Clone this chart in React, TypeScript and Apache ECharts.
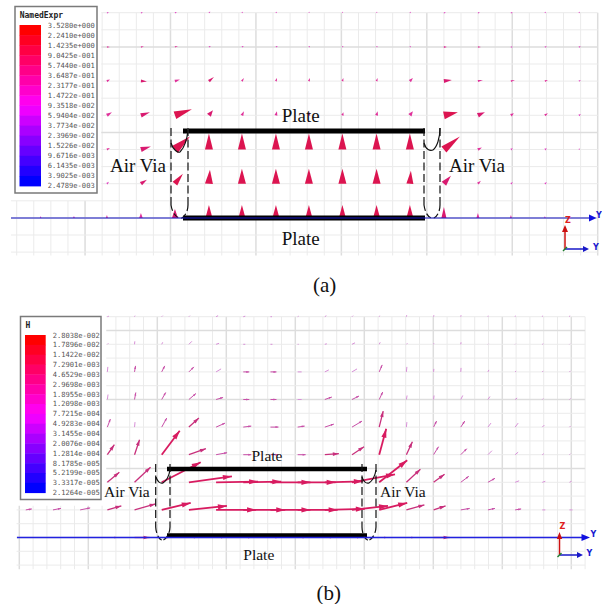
import React, { useEffect, useRef } from "react";
import * as echarts from "echarts";

// ---------- legends ----------
const legendLabelsA = ["3.5280e+000","2.2410e+000","1.4235e+000","9.0425e-001","5.7440e-001","3.6487e-001","2.3177e-001","1.4722e-001","9.3518e-002","5.9404e-002","3.7734e-002","2.3969e-002","1.5226e-002","9.6716e-003","6.1435e-003","3.9025e-003","2.4789e-003"];
const legendLabelsB = ["2.8038e-002","1.7896e-002","1.1422e-002","7.2901e-003","4.6529e-003","2.9698e-003","1.8955e-003","1.2098e-003","7.7215e-004","4.9283e-004","3.1455e-004","2.0076e-004","1.2814e-004","8.1785e-005","5.2199e-005","3.3317e-005","2.1264e-005"];
const legendRamp = ["#ff0000","#ff0022","#ff0044","#ff0066","#ff0088","#ff00aa","#ff00cc","#ff00ee","#ee00ff","#cc00ff","#aa00ff","#8800ff","#6600ff","#4400ff","#2200ff","#0000ff"];

// ---------- sample points of the two vector fields (mesh cell units) ----------
const colsA = [1.4,3.35,5.28,7.27,9.26,11.25,13.18,15.17,17.1,19.06,21.06,23.01,25,26.99,28.92,30.91,32.9];
const rowsA = [0,2,4,6,8,10,12];
const colsB = [0.47,2.44,4.41,6.38,8.35,10.32,12.29,14.26,16.23,18.2,20.17,22.14,24.11,26.08,28.05,30.02,31.99,33.96,35.93,37.9,39.87];
const rowsB = [0,2,4,6,8,10,12,14,16];

// ---------- panel (a): [column, vx, vy, width] per row ----------
const fieldA0 = [[2,2,0,1.5],[3,2,0,1.5],[4,2,0.5,1.5],[5,1.5,1,1.5],[6,1,1,1.5],[7,1,1,1.5],[8,0.5,1,1.5],[9,0.5,1,1.5],[10,0.5,1,1.5],[11,1,1,1.5],[12,2,0,1.5],[13,2,0,1.5],[14,2,0,1.5],[15,1,1,1.5],[16,1,1,1.5]];
const fieldA1 = [[2,3,0,1.5],[3,3,0.5,1.5],[4,3,1,1.5],[5,2,1,1.5],[6,2,1,1.5],[7,2,1,1.5],[8,1,1,1.5],[9,1,1,1.5],[10,1,1,1.5],[11,1,1,1.5],[12,3,0,2],[13,3,0,1.5],[14,2,0,1.5],[15,2,0.5,1.5],[16,2,0.5,1.5]];
const fieldA2 = [[2,3,1.5,2.5],[3,6,-0.5,3],[4,5,1.5,3],[5,5,4,3],[6,2,3,2],[7,1,3,2],[8,1,3,2],[9,1,3,2],[10,1,3,2],[11,3,3,3],[12,8,1,4],[13,5,1,2],[14,4,1,2],[15,3,1,2],[16,2,1,1.5]];
const fieldA3 = [[2,5,3,3.5],[3,9,3,4.5],[4,17,6,8],[5,4,5,5],[6,2,4,3],[7,1,4,3],[8,1,3,2.5],[9,1,3,2.5],[10,1,4,3],[11,3,4,4],[12,14,3,8],[13,7,3,5],[14,3,2,3],[15,3,2,2.5],[16,2,1,2]];
const fieldA4 = [[2,3,1.5,2],[3,10,3,5],[4,15,13,9],[5,0,16,8],[6,0,16,8],[7,0,16,8],[8,0,16,8],[9,0,16,8],[10,0,16,8],[11,0,16,8],[12,16,13,8],[13,4,2,3],[14,2,1,2],[15,2,1,2],[16,1,1,1.5]];
const fieldA5 = [[2,2,2,2],[3,6,4,4],[4,8,10,6],[5,1,14,8],[6,0,15,8],[7,0,15,8],[8,0,15,8],[9,0,15,8],[10,0,15,8],[11,1,13,7],[12,7,8,6],[13,3,3,2.5],[14,2,1.5,2],[15,2,1.5,2]];
const fieldA6 = [[0,0,2,1.5],[1,0,2,2],[2,0,3,2],[3,0,5,3.5],[4,0,9,6],[5,0,13,7],[6,0,13,7],[7,0,13,7],[8,0,13,7],[9,0,13,7],[10,0,13,7],[11,0,13,7],[12,0,11,5],[13,0,5,3],[14,0,3,2],[15,0,2,1.5]];
const fieldRowsA = [fieldA0,fieldA1,fieldA2,fieldA3,fieldA4,fieldA5,fieldA6];

// ---------- panel (b): [column, vx, vy] per row ----------
const fieldB0 = [[3,1.5,0.5],[4,0.5,1],[5,1,1],[6,1,1],[7,2,1],[8,2,0.5],[9,1.5,0],[10,1,0.5],[11,1.5,1],[12,1,1],[13,0.5,1],[14,0.3,1.5],[15,0.3,1.5],[16,0.3,1.5],[17,0.3,1],[18,0.3,1],[19,0.3,1],[20,0.3,1]];
const fieldB1 = [[3,1,1],[4,0.3,3],[5,1,2],[6,3,3],[7,3,1],[8,2,0],[9,2,0],[10,1,0],[11,2,0.5],[12,3,1.5],[13,1,2],[14,1,1],[15,0.3,1],[16,0.3,2],[17,0.5,0.5],[18,0.5,0.5],[19,1,0.5],[20,0.5,0.5]];
const fieldB2 = [[3,0.5,5],[4,1,6],[5,3,6],[6,5,5],[7,5,3],[8,6,0],[9,6,0],[10,4,0],[11,4,2],[12,5,3],[13,3,7],[14,0.5,5],[15,0.3,3],[16,0.3,4],[17,1,2],[18,1,1],[19,1,1],[20,1,1]];
const fieldB3 = [[3,0.7,5],[4,1.3,7],[5,4,7],[6,7,6],[7,7,2],[8,6,0],[9,6,0],[10,4,0],[11,7,2.5],[12,7,3.5],[13,3.5,7.5],[14,0.7,4],[15,0.5,4],[16,2,4],[17,2,3],[18,2,1.5],[19,1,1],[20,1,1]];
const fieldB4 = [[3,3,8],[4,0.5,5],[5,5,9],[6,10,9],[7,9,4],[8,8,1],[9,8,0],[10,7,1],[11,9,3],[12,10,6],[13,4,16],[14,0.5,5],[15,3,6],[16,4,6],[17,3,4],[18,3,4],[19,2,2],[20,1,1]];
const fieldB5 = [[3,7,10],[4,5,15],[5,18,24],[6,17,6],[7,11,2],[8,8,0],[9,8,0],[10,8,0],[11,14,1],[12,12,8],[13,7,26],[14,6,13],[15,5,8],[16,6,6],[17,4,4],[18,3,2.5],[19,1.5,1],[20,1,1]];
const fieldB6 = [[3,12,10],[4,16,15],[5,39,20],[6,43,6],[7,42,0.7],[8,38,0.7],[9,40,0],[10,38,0],[11,38,1],[12,43,8],[13,28,22],[14,14,13],[15,11,8],[16,8,6],[17,7,4],[18,4,1.5],[19,3,1],[20,2,1]];
const fieldB7 = [[0,6,1],[1,8,1.5],[2,10,2],[3,14,4],[4,21,6],[5,29,7],[6,38,4],[7,40,0],[8,42,0],[9,40,0],[10,40,0],[11,40,1],[12,36,4],[13,28,7],[14,18,5],[15,12,4],[16,9,1.5],[17,7,1.5],[18,6,1],[19,3,0],[20,3,0]];
const fieldB8 = [[1,2,0],[2,2,0],[3,10,0],[4,15,0],[5,8,0],[6,8,0],[7,8,0],[8,8,0],[9,8,0],[10,8,0],[11,8,0],[12,8,0],[13,8,0],[14,8,0],[15,16,0],[16,4,0],[17,4,0],[18,3,0],[19,2,0]];
const fieldRowsB = [fieldB0,fieldB1,fieldB2,fieldB3,fieldB4,fieldB5,fieldB6,fieldB7,fieldB8];

const dataA = fieldRowsA.flatMap((row, r) => row.map(([c, vx, vy, w]) => [colsA[c], rowsA[r], vx, vy, w]));
const dataB = fieldRowsB.flatMap((row, r) => row.map(([c, vx, vy]) => [colsB[c], rowsB[r], vx, vy]));

// ---------- mesh ----------
// [x1, y1, x2, y2, major]
const meshA: number[][] = [];
for (let k = 0; k <= 34; k++) meshA.push([k, k < 5 ? 11 : 0, k, 14.2, k % 5 === 4 ? 1 : 0]);
for (let k = 0; k <= 14; k++) meshA.push([k < 11 ? 4.95 : -0.33, k, 34, k, k % 5 === 2 ? 1 : 0]);
const meshB: number[][] = [];
for (let k = 0; k <= 41; k++) meshB.push([k, k < 7 ? 13.7 : 0, k, 18.3, k % 5 === 0 ? 1 : 0]);
for (let k = 0; k <= 18; k++) meshB.push([k < 14 ? 6.3 : -0.2, k, 41, k, k % 5 === 1 ? 1 : 0]);

const colorA = (len: number) => (len >= 12 ? "#dc1450" : len >= 6 ? "#d91a70" : len >= 3 ? "#e0309a" : "#e040c0");
const colorB = (len: number) => (len >= 25 ? "#d81b60" : len >= 12 ? "#c8307c" : len >= 6 ? "#c850a8" : "#d890d8");

const meshSeries = (data: number[][], idx: number) => ({
  type: "custom", xAxisIndex: idx, yAxisIndex: idx, clip: false, silent: true, z: 1, data,
  renderItem: (_: any, api: any) => {
    const a = api.coord([api.value(0), api.value(1)]);
    const b = api.coord([api.value(2), api.value(3)]);
    return { type: "line", shape: { x1: a[0], y1: a[1], x2: b[0], y2: b[1] },
      style: { stroke: api.value(4) ? "#dddddd" : "#ebebeb", lineWidth: api.value(4) ? 1.5 : 1 } };
  },
});

const conesA = {
  type: "custom", xAxisIndex: 0, yAxisIndex: 0, clip: false, silent: true, z: 3, data: dataA,
  renderItem: (_: any, api: any) => {
    const p = api.coord([api.value(0), api.value(1)]);
    const vx = api.value(2), vy = api.value(3), w = api.value(4);
    const len = Math.hypot(vx, vy) || 1;
    const nx = (-vy / len) * (w / 2), ny = (-vx / len) * (w / 2);
    return { type: "polygon", shape: { points: [[p[0] + vx, p[1] - vy], [p[0] + nx, p[1] + ny], [p[0] - nx, p[1] - ny]] },
      style: { fill: colorA(len) } };
  },
};

const arrowsB = {
  type: "custom", xAxisIndex: 1, yAxisIndex: 1, clip: false, silent: true, z: 3, data: dataB,
  renderItem: (_: any, api: any) => {
    const p = api.coord([api.value(0), api.value(1)]);
    const vx = api.value(2), vy = api.value(3);
    const len = Math.hypot(vx, vy) || 1;
    const tip = [p[0] + vx, p[1] - vy];
    const color = colorB(len);
    const children: any[] = [{ type: "line", shape: { x1: p[0], y1: p[1], x2: tip[0], y2: tip[1] },
      style: { stroke: color, lineWidth: len >= 25 ? 1.8 : len >= 12 ? 1.3 : 1 } }];
    const hl = len >= 25 ? 9 : len >= 12 ? 6 : len >= 6 ? 3 : 0;
    if (hl) {
      const hw = len >= 25 ? 2.6 : len >= 12 ? 1.8 : 1;
      const ux = vx / len, uy = -vy / len;
      children.push({ type: "polygon", shape: { points: [tip,
        [tip[0] - ux * hl - uy * hw, tip[1] - uy * hl + ux * hw],
        [tip[0] - ux * hl + uy * hw, tip[1] - uy * hl - ux * hw]] }, style: { fill: color } });
    }
    return { type: "group", children };
  },
};

// ---------- annotation helpers ----------
const Z = 20;
const serif = (s: number) => `${s}px "Liberation Serif"`;
// y is the text's baseline; the middle of the text box sits a third of the size above it
const label = (text: string, x: number, y: number, size: number) => ({
  type: "text", x, y: y - size * 0.33, z: Z + 2, style: { text, font: serif(size), fill: "#111111", verticalAlign: "middle" },
});
const small = (text: string, x: number, y: number, fill: string) => ({
  type: "text", x, y, z: Z, style: { text, font: 'bold 8px "DejaVu Sans"', fill, verticalAlign: "middle" },
});
const seg = (x1: number, y1: number, x2: number, y2: number, stroke: string, lineWidth: number, lineDash?: number[]) => ({
  type: "line", z: Z, shape: { x1, y1, x2, y2 }, style: { stroke, lineWidth, lineDash },
});
const curve = (x1: number, y1: number, cx1: number, cy1: number, cx2: number, cy2: number, x2: number, y2: number, lineDash?: number[]) => ({
  type: "bezierCurve", z: Z, shape: { x1, y1, cpx1: cx1, cpy1: cy1, cpx2: cx2, cpy2: cy2, x2, y2 },
  style: { stroke: "#111111", lineWidth: 1.2, fill: "none", lineDash },
});
const tri = (points: number[][], fill: string) => ({ type: "polygon", z: Z, shape: { points }, style: { fill } });

const legend = (title: string, labels: string[], box: number[], bar: number[], tx: number, ty0: number, dy: number, titleX: number, titleY: number) => {
  const els: any[] = [
    { type: "rect", z: Z - 1, shape: { x: box[0], y: box[1], width: box[2], height: box[3] }, style: { fill: "#ffffff", stroke: "#7a7a7a", lineWidth: 1.5 } },
    { type: "text", x: titleX, y: titleY, z: Z, style: { text: title, font: 'bold 8px "DejaVu Sans Mono"', fill: "#222222", verticalAlign: "middle" } },
  ];
  const h = bar[3] / legendRamp.length;
  legendRamp.forEach((c, i) => els.push({ type: "rect", z: Z, shape: { x: bar[0], y: bar[1] + i * h, width: bar[2], height: h + 0.4 }, style: { fill: c } }));
  labels.forEach((t, i) => els.push({ type: "text", x: tx, y: ty0 + i * dy, z: Z, style: { text: t, font: '7.1px "DejaVu Sans Mono"', fill: "#555555", verticalAlign: "middle" } }));
  return els;
};

const dash = [8, 3.5];
const graphics: any[] = [
  ...legend("NamedExpr", legendLabelsA, [15, 6.5, 82, 186.5], [19.5, 25, 21.5, 161], 47.7, 25.5, 10.03, 19.7, 15.5),
  ...legend("H", legendLabelsB, [20.5, 316.5, 80.5, 183], [25, 335, 20.7, 157.7], 52.7, 335, 9.85, 25.5, 325),

  // panel (a) plates, vias, axes
  seg(183, 131, 425, 131, "#000000", 5),
  seg(183, 218, 425, 218, "#000000", 5),
  seg(171, 128, 171, 205, "#333333", 1.4, dash),
  seg(188, 128, 188, 205, "#333333", 1.4, dash),
  curve(171, 143, 173, 150, 178, 153, 180, 152),
  curve(180, 152, 184, 148, 187, 140, 188, 130),
  curve(171, 205, 172, 212, 176, 219, 182, 218, [6, 3]),
  curve(188, 205, 188, 210, 186, 215, 182, 218, [6, 3]),
  seg(424, 128, 424, 205, "#111111", 1.2, dash),
  seg(440, 128, 440, 205, "#111111", 1.2, dash),
  curve(424, 143, 426, 150, 430, 151, 433, 150),
  curve(433, 150, 437, 147, 440, 138, 440, 128),
  curve(424, 205, 425, 212, 428, 219, 434, 218, [6, 3]),
  curve(440, 205, 440, 210, 438, 216, 434, 218, [6, 3]),
  seg(11, 218, 590, 218, "#1818c8", 1.2),
  tri([[589, 214.5], [596.5, 218], [589, 221.5]], "#1010e0"),
  small("Y", 596, 215, "#1818d0"),
  seg(565, 249, 565, 230, "#cc1010", 1.5),
  tri([[562, 232], [565, 225], [568, 232]], "#cc1010"),
  seg(565, 249, 584, 249, "#1818c8", 1.5),
  tri([[583, 246], [589, 249], [583, 252]], "#1818c8"),
  seg(563, 251, 567, 247, "#208030", 1.5),
  small("Z", 565, 220.5, "#e02020"),
  small("Y", 593, 247, "#1818d0"),

  // panel (b) plates, vias, axes
  seg(167, 469, 367, 469, "#000000", 4.5),
  seg(167, 535.5, 367, 535.5, "#000000", 4.5),
  seg(155.7, 464, 155.7, 527, "#111111", 1.2, dash),
  seg(170, 464, 170, 527, "#111111", 1.2, dash),
  curve(156, 477, 157, 481, 160, 484, 163, 483),
  curve(163, 483, 166, 481, 169, 476, 170, 470),
  curve(155.7, 527, 156, 533, 159, 541, 163, 540, [6, 3]),
  curve(170, 527, 170, 532, 167, 539, 163, 540, [6, 3]),
  seg(362, 464, 362, 527, "#111111", 1.2, dash),
  seg(376, 464, 376, 527, "#111111", 1.2, dash),
  curve(362, 477, 363, 481, 366, 484, 369, 483),
  curve(369, 483, 372, 481, 375, 476, 376, 470),
  curve(362, 527, 362, 533, 365, 541, 369, 540, [6, 3]),
  curve(376, 527, 376, 532, 373, 539, 369, 540, [6, 3]),
  seg(17, 537.5, 583, 537.5, "#2222e0", 1.3),
  tri([[581.5, 534], [590, 537.5], [581.5, 541]], "#1010e0"),
  small("Y", 590.5, 534, "#1818d0"),
  seg(559.5, 555, 559.5, 537, "#cc1010", 1.5),
  tri([[556.8, 539], [559.5, 532], [562.2, 539]], "#cc1010"),
  seg(559.5, 555, 578, 555, "#1818c8", 1.5),
  tri([[577, 552], [583, 555], [577, 558]], "#1818c8"),
  seg(557.5, 557, 561.5, 553, "#208030", 1.5),
  small("Z", 559.5, 526.5, "#e02020"),
  small("Y", 586.5, 553, "#1818d0"),

  // texts
  label("Plate", 281.7, 121.5, 19),
  label("Plate", 281.7, 245, 19),
  label("Air Via", 110, 172, 19),
  label("Air Via", 449, 172, 19),
  label("(a)", 313, 292, 21),
  label("Plate", 251.5, 460.5, 15.5),
  label("Plate", 243.3, 560, 15.5),
  label("Air Via", 104, 496.5, 15.5),
  label("Air Via", 380, 497, 15.5),
  label("(b)", 316.5, 600, 21),
];

const hiddenX = (max: number, gridIndex: number) => ({ type: "value", gridIndex, min: 0, max, show: false });
const hiddenY = (max: number, gridIndex: number) => ({ type: "value", gridIndex, min: 0, max, inverse: true, show: false });

export default function App() {
  const ref = useRef<HTMLDivElement>(null);
  useEffect(() => {
    const chart = echarts.init(ref.current!, undefined, { renderer: "svg" });
    chart.setOption({
      animation: false,
      backgroundColor: "#ffffff",
      grid: [
        { left: 16.7, top: 12.7, width: 581, height: 239.4 },
        { left: 19.3, top: 316.7, width: 565.8, height: 248.4 },
      ],
      xAxis: [hiddenX(34, 0), hiddenX(41, 1)],
      yAxis: [hiddenY(14, 0), hiddenY(18, 1)],
      series: [meshSeries(meshA, 0), meshSeries(meshB, 1), conesA, arrowsB],
      graphic: { elements: graphics },
    });
    return () => chart.dispose();
  }, []);
  return <div ref={ref} style={{ position: "absolute", left: 0, top: 0, width: 602, height: 604 }} />;
}
